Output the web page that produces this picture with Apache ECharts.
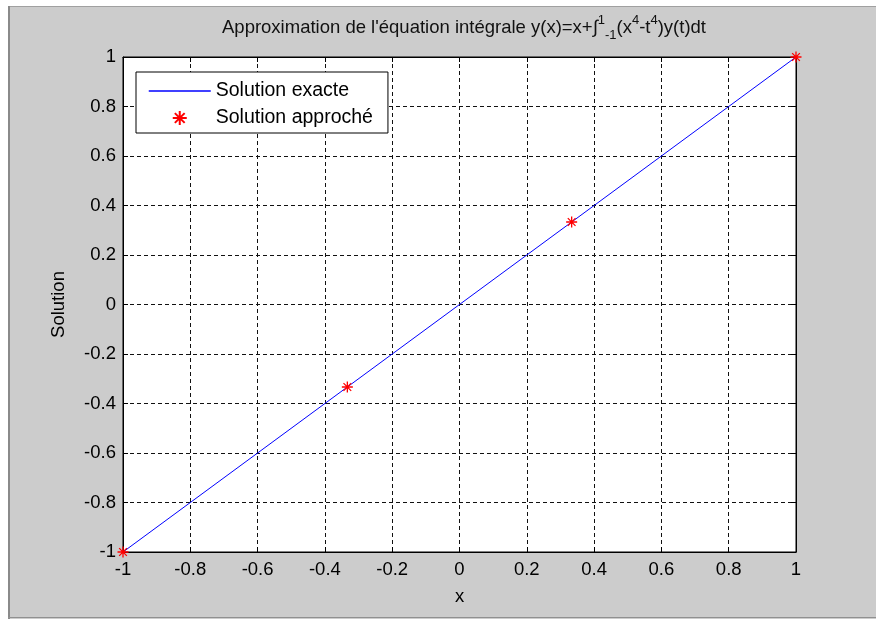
<!DOCTYPE html>
<html>
<head>
<meta charset="utf-8">
<script src="https://cdn.jsdelivr.net/npm/echarts@6/dist/echarts.min.js"></script>
<style>
  html, body { margin: 0; padding: 0; background: #fff; }
  #main { width: 876px; height: 619px; }
</style>
</head>
<body>
<div id="main"></div>
<script>
var chartDom = document.getElementById('main');
var myChart = echarts.init(chartDom);
var option;

// data
var exactX = [-1, 1];
var exactY = [-1, 1];
var approxX = [-1, -0.3333, 0.3333, 1];
var approxY = [-1, -0.3333, 0.3333, 1];
var seriesNames = ['Solution exacte', 'Solution approché'];

var star = 'path://M0,-5L0,5M-5,0L5,0M-3.5,-3.5L3.5,3.5M-3.5,3.5L3.5,-3.5';
var font = 'Liberation Sans, Arial, sans-serif';

function zip(a, b) {
    return a.map(function (v, i) { return [v, b[i]]; });
}

var gridLine = { show: true, lineStyle: { color: '#111', width: 1, type: [4, 3] } };

option = {
    backgroundColor: '#cccccc',
    animation: false,
    textStyle: { fontFamily: font },
    title: {
        text: 'Approximation de l\'équation intégrale y(x)=x+∫{sup|1}{sub|-1}(x{sup|4}-t{sup|4})y(t)dt',
        left: 459,
        textAlign: 'center',
        top: 9,
        textStyle: {
            fontSize: 18.5,
            fontWeight: 'normal',
            color: '#111',
            lineHeight: 28,
            rich: {
                sup: { fontSize: 13, verticalAlign: 'top', lineHeight: 15, color: '#111' },
                sub: { fontSize: 13, verticalAlign: 'bottom', lineHeight: 15, color: '#111' }
            }
        }
    },
    legend: {
        data: [
            { name: seriesNames[0], itemStyle: { color: 'rgba(0,0,0,0)', borderWidth: 0 }, lineStyle: { color: '#0000ff', width: 1.5 } },
            { name: seriesNames[1] }
        ],
        orient: 'vertical',
        left: 136,
        top: 72,
        padding: [9, 15, 5, 12],
        itemWidth: 62,
        itemHeight: 14,
        itemGap: 7,
        backgroundColor: '#fff',
        borderColor: '#000',
        borderWidth: 1,
        textStyle: { fontSize: 19.5, color: '#000', fontFamily: font }
    },
    grid: { left: 123, right: 80, top: 57, bottom: 67, backgroundColor: '#fff', show: true, borderColor: '#000', borderWidth: 1 },
    xAxis: [{
        type: 'value', min: -1, max: 1, interval: 0.2,
        name: 'x', nameLocation: 'middle', nameGap: 35,
        nameTextStyle: { fontSize: 18.5, color: '#000' },
        axisLine: { show: true, onZero: false, lineStyle: { color: '#000' } },
        axisTick: { show: true, inside: true, length: 5, lineStyle: { color: '#000' } },
        axisLabel: { fontSize: 18.5, color: '#000', margin: 8 },
        splitLine: gridLine
    }, {
        type: 'value', min: -1, max: 1, interval: 0.2, position: 'top',
        axisLine: { show: true, onZero: false, lineStyle: { color: '#000' } },
        axisTick: { show: true, inside: true, length: 5, lineStyle: { color: '#000' } },
        axisLabel: { show: false },
        splitLine: { show: false }
    }],
    yAxis: [{
        type: 'value', min: -1, max: 1, interval: 0.2,
        name: 'Solution', nameLocation: 'middle', nameGap: 55,
        nameTextStyle: { fontSize: 18.5, color: '#000' },
        axisLine: { show: true, onZero: false, lineStyle: { color: '#000' } },
        axisTick: { show: true, inside: true, length: 5, lineStyle: { color: '#000' } },
        axisLabel: { fontSize: 18.5, color: '#000', margin: 7 },
        splitLine: gridLine
    }, {
        type: 'value', min: -1, max: 1, interval: 0.2, position: 'right',
        axisLine: { show: true, onZero: false, lineStyle: { color: '#000' } },
        axisTick: { show: true, inside: true, length: 5, lineStyle: { color: '#000' } },
        axisLabel: { show: false },
        splitLine: { show: false }
    }],
    graphic: [
        { type: 'rect', shape: { x: 0, y: 0, width: 876, height: 6 }, style: { fill: '#fff' }, silent: true },
        { type: 'rect', shape: { x: 0, y: 0, width: 8, height: 619 }, style: { fill: '#fff' }, silent: true },
        { type: 'line', shape: { x1: 8, y1: 6.5, x2: 876, y2: 6.5 }, style: { stroke: '#a0a0a0', lineWidth: 1 }, silent: true },
        { type: 'line', shape: { x1: 9, y1: 6, x2: 9, y2: 619 }, style: { stroke: '#8a8a8a', lineWidth: 2 }, silent: true },
        { type: 'line', shape: { x1: 8, y1: 617.5, x2: 876, y2: 617.5 }, style: { stroke: '#909090', lineWidth: 1 }, silent: true }
    ],
    series: [
        {
            name: seriesNames[0],
            type: 'line',
            data: zip(exactX, exactY),
            symbol: 'none',
            showSymbol: false,
            lineStyle: { color: '#0000ff', width: 1 },
            itemStyle: { color: '#0000ff' },
            z: 3
        },
        {
            name: seriesNames[1],
            type: 'scatter',
            data: zip(approxX, approxY),
            symbol: star,
            symbolSize: 11,
            symbolKeepAspect: true,
            itemStyle: { color: '#ff0000', borderColor: '#ff0000', borderWidth: 1.3, opacity: 1 },
            z: 4
        }
    ]
};

myChart.setOption(option);
</script>
</body>
</html>
